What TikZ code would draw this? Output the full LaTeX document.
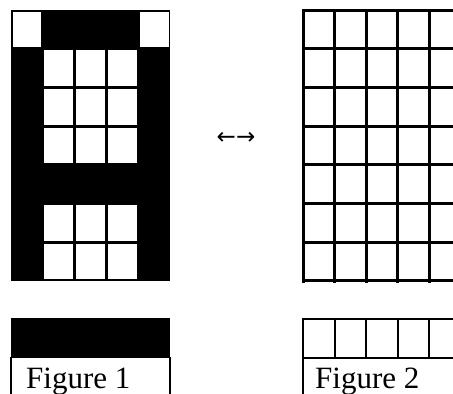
\documentclass[tikz,border=0pt]{standalone}
\usepackage{fontspec}
\setmainfont{Liberation Serif}
\newfontfamily\arrowfont{DejaVu Sans}
\begin{document}
\begin{tikzpicture}[x=1pt,y=-1pt,
  gridline/.style={line width=3pt,line cap=rect},
  stripline/.style={line width=2pt,line cap=rect},
  captiontext/.style={anchor=base west,inner sep=0pt,font=\fontsize{31}{31}\selectfont},
  arrowtext/.style={inner sep=0pt,font=\arrowfont\fontsize{23}{23}\selectfont}]
\useasboundingbox (0,0) rectangle (453,394);
\clip (0,0) rectangle (453,394);
\fill[white] (0,0) rectangle (453,394);
% Figure 1 : letter A
\fill[black] (11,10) rectangle (170,281);
\foreach \c/\r in {0/0,4/0,1/1,2/1,3/1,1/2,2/2,3/2,1/3,2/3,3/3,1/5,2/5,3/5,1/6,2/6,3/6}
  \fill[white] ({11+\c*31.8+1.5},{10+\r*38.7+1.5}) rectangle ++(28.8,35.7);
% Figure 1 bottom strip
\fill[black] (11,318) rectangle (170,358);
\draw[stripline] (11,358) -- (11,400);
\draw[stripline] (170,358) -- (170,400);
\node[captiontext] (cap1) at (26,388) {Figure 1};
% arrow
\node[arrowtext] (arr) at (236,138) {←→};
% Figure 2 : empty grid
\foreach \i in {0,...,5}
  \draw[gridline] ({303+\i*31.6},10) -- ({303+\i*31.6},281);
\foreach \j in {0,...,7}
  \draw[gridline] (303,{10+\j*38.7}) -- (465,{10+\j*38.7});
% Figure 2 bottom strip
\draw[stripline] (303,319) -- (465,319);
\draw[stripline] (303,358) -- (465,358);
\foreach \i in {1,...,5}
  \draw[stripline] ({303+\i*31.6},319) -- ({303+\i*31.6},358);
\draw[stripline] (303,319) -- (303,400);
\node[captiontext] (cap2) at (315,388) {Figure 2};
\end{tikzpicture}
\end{document}
